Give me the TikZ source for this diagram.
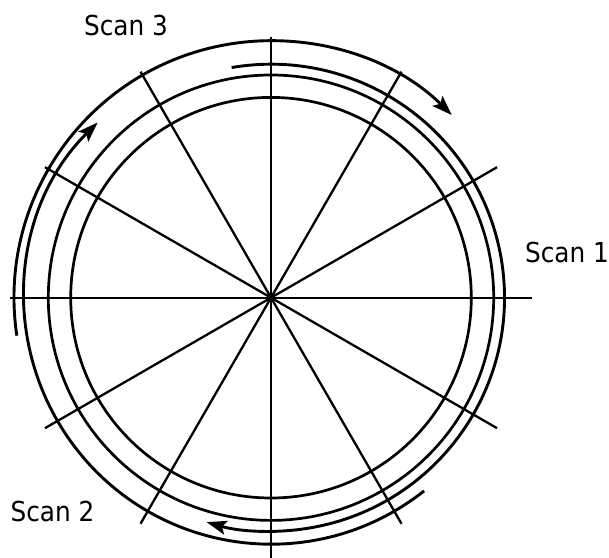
\documentclass[tikz,border=0pt]{standalone}
\usepackage{fontspec}
\setmainfont{DejaVu Sans Condensed}
\usetikzlibrary{arrows.meta}
\begin{document}
\begin{tikzpicture}[x=1pt,y=1pt,
  circ/.style={line width=2.7pt},
  spoke/.style={line width=2.3pt},
  scanarc/.style={line width=2.9pt,-{Stealth[length=20pt,width=14pt,inset=4pt]}},
  lab/.style={font=\fontsize{27.5}{30}\selectfont, inner sep=0pt, anchor=base}]
\useasboundingbox (0,0) rectangle (609,557);
\coordinate (O) at (271,259.3);
\foreach \a in {0,30,...,150}
  \draw[spoke] ([shift={(\a:261)}]O) -- ([shift={(\a+180:261)}]O);
\draw[circ] (O) circle[radius=200.3];
\draw[circ] (O) circle[radius=222.7];
% Scan 3
\draw[scanarc] ([shift={(188.5:257)}]O) arc[start angle=188.5, end angle=45.3, radius=257];
% Scan 1
\draw[scanarc] ([shift={(99.7:233.5)}]O) arc[start angle=99.7, end angle=-106, radius=233.5];
% Scan 2
\draw[scanarc] ([shift={(-51.6:246.5)}]O) arc[start angle=-51.6, end angle=-225.3, radius=246.5];
\node[lab] (s3) at (126,521.5) {Scan 3};
\node[lab] (s1) at (567,294) {Scan 1};
\node[lab] (s2) at (52.5,35.4) {Scan 2};
\end{tikzpicture}
\end{document}
